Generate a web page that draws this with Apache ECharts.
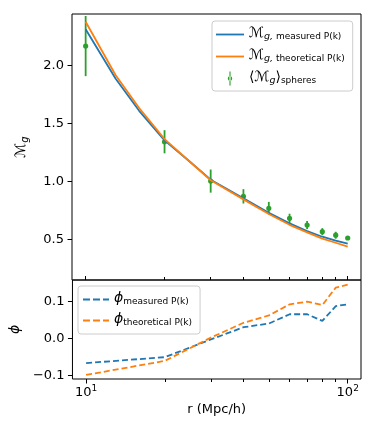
<!DOCTYPE html>
<html>
<head>
<meta charset="utf-8">
<script src="https://cdn.jsdelivr.net/npm/echarts@6/dist/echarts.min.js"></script>
<style>
  html, body { margin: 0; padding: 0; background: #fff; }
  #chart { width: 375px; height: 432px; }
</style>
</head>
<body>
<div id="chart"></div>
<script>
// model curves, top panel
const rLine = [10, 13, 16, 20, 25, 30, 40, 50, 60, 70, 80, 90, 100];
const mMeasured = [2.315, 1.89, 1.61, 1.355, 1.17, 1.015, 0.855, 0.728, 0.637, 0.571, 0.522, 0.488, 0.462];
const mTheory = [2.38, 1.92, 1.635, 1.365, 1.17, 1.01, 0.845, 0.718, 0.625, 0.56, 0.505, 0.47, 0.436];

// sphere averages with error bars
const rSpheres = [10, 20, 30, 40, 50, 60, 70, 80, 90, 100];
const mSpheres = [2.17, 1.343, 1.003, 0.871, 0.768, 0.681, 0.623, 0.566, 0.535, 0.511];
const errSpheres = [0.26, 0.1, 0.1, 0.062, 0.055, 0.04, 0.035, 0.03, 0.03, 0.01];

// bottom panel
const phiMeasured = [-0.067, -0.051, -0.003, 0.030, 0.040, 0.065, 0.065, 0.047, 0.087, 0.092];
const phiTheory = [-0.099, -0.061, 0.002, 0.042, 0.062, 0.092, 0.099, 0.090, 0.137, 0.145];

const topTicks = [0.5, 1.0, 1.5, 2.0];
const bottomTicks = [-0.1, 0.0, 0.1];
const xMajor = [10, 100];
const xMinor = [20, 30, 40, 50, 60, 70, 80, 90];
const R_MIN = 8.87, R_MAX = 112.4;

const FONT = "DejaVu Sans";
const BLUE = "#1f77b4", ORANGE = "#ff7f0e", GREEN = "#2ca02c";

const SOLID_ICON = "path://M0,0h28v1.8h-28z";
const DASH_ICON = "path://M0,0h7v1.8h-7z M10,0h7v1.8h-7z M20,0h6v1.8h-6z";
const ERR_ICON = "path://M4.2,0h1.6v20h-1.6z M1.8,10a3.2,3.2 0 1,0 6.4,0a3.2,3.2 0 1,0 -6.4,0z";

const zip = (a, b) => a.map((v, i) => [v, b[i]]);

// data axes (log), ticks hidden
function dataAxis(grid) {
  return {
    type: "log",
    gridIndex: grid,
    position: "bottom",
    min: R_MIN,
    max: R_MAX,
    axisLine: { show: false },
    axisTick: { show: false },
    splitLine: { show: false },
    axisLabel: { show: false },
  };
}

// tick axes, linear in log10(r) so major/minor ticks line up with the log scale
function tickAxis(grid, values, tickOpts, extra) {
  return Object.assign({
    type: "value",
    gridIndex: grid,
    position: "bottom",
    min: Math.log10(R_MIN),
    max: Math.log10(R_MAX),
    axisLine: { show: false },
    splitLine: { show: false },
    axisTick: Object.assign({ show: true, customValues: values.map(Math.log10), lineStyle: { color: "#000", width: 1 } }, tickOpts),
    axisLabel: { show: false },
  }, extra || {});
}

const legendRich = {
  m: { fontSize: 14, color: "#000", fontFamily: FONT, lineHeight: 14, padding: [0, 0, 3, 0] },
  gi: { fontSize: 9.5, color: "#000", fontFamily: FONT, fontStyle: "italic", lineHeight: 10, verticalAlign: "bottom" },
  sub: { fontSize: 9, color: "#000", fontFamily: FONT, lineHeight: 10, verticalAlign: "bottom" },
};

let myChart = echarts.init(document.getElementById("chart"), null, { renderer: "canvas" });

myChart.setOption({
  animation: false,
  textStyle: { fontFamily: FONT },
  grid: [
    { left: 72, top: 14, width: 289, height: 266, show: true, borderColor: "#000", borderWidth: 1 },
    { left: 72, top: 280, width: 289, height: 99, show: true, borderColor: "#000", borderWidth: 1 },
  ],
  legend: [
    {
      orient: "vertical",
      left: 212,
      top: 21,
      padding: [5, 8, 4, 4],
      itemWidth: 28,
      itemHeight: 14,
      itemGap: 5,
      backgroundColor: "rgba(255,255,255,0.8)",
      borderColor: "#cccccc",
      borderWidth: 1,
      borderRadius: 3,
      data: [
        { name: "measured", icon: SOLID_ICON },
        { name: "theoretical", icon: SOLID_ICON },
        { name: "spheres", icon: ERR_ICON },
      ],
      formatter: function (name) {
        if (name === "spheres") return "{m|\u27E8\u2133}{gi|g}{m|\u27E9}{sub|spheres}";
        return "{m|\u2133}{gi|g,}{sub| " + name + " P(k)}";
      },
      textStyle: { rich: legendRich },
    },
    {
      orient: "vertical",
      left: 78,
      top: 286,
      padding: [5, 8, 5, 5],
      itemWidth: 26,
      itemHeight: 14,
      itemGap: 4,
      backgroundColor: "rgba(255,255,255,0.8)",
      borderColor: "#cccccc",
      borderWidth: 1,
      borderRadius: 3,
      data: [
        { name: "phi measured", icon: DASH_ICON },
        { name: "phi theoretical", icon: DASH_ICON },
      ],
      formatter: function (name) {
        return "{m|\u03D5}{sub|" + name.replace("phi ", "") + " P(k)}";
      },
      textStyle: {
        rich: {
          m: { fontSize: 14, color: "#000", fontFamily: FONT, fontStyle: "italic", lineHeight: 14, padding: [0, 0, 3, 0] },
          sub: { fontSize: 9, color: "#000", fontFamily: FONT, lineHeight: 10, verticalAlign: "bottom" },
        },
      },
    },
  ],
  xAxis: [
    dataAxis(0),
    dataAxis(1),
    tickAxis(0, xMajor, { inside: true, length: 4 }),
    tickAxis(0, xMinor, { inside: true, length: 3 }),
    tickAxis(1, xMinor, { length: 3 }),
    tickAxis(1, xMajor, { length: 4.5 }, {
      axisLabel: {
        show: true,
        customValues: xMajor.map(Math.log10),
        margin: 5,
        formatter: function (v) {
          return "{b|10}{s|" + Math.round(v) + "}";
        },
        rich: {
          b: { fontSize: 13, color: "#000", fontFamily: FONT, lineHeight: 13, padding: [4, 0, 0, 0] },
          s: { fontSize: 9, color: "#000", fontFamily: FONT, lineHeight: 9, verticalAlign: "top" },
        },
      },
      name: "r (Mpc/h)",
      nameLocation: "middle",
      nameGap: 24,
      nameTextStyle: { fontSize: 13, color: "#000", fontFamily: FONT },
    }),
  ],
  yAxis: [
    {
      type: "value",
      gridIndex: 0,
      min: 0.148,
      max: 2.447,
      axisLine: { show: false },
      splitLine: { show: false },
      axisTick: { show: true, length: 4.5, customValues: topTicks, lineStyle: { color: "#000" } },
      axisLabel: {
        customValues: topTicks,
        margin: 8,
        fontSize: 13,
        color: "#000",
        formatter: (v) => v.toFixed(1),
      },
      name: "{m|\u2133}{g|g}",
      nameLocation: "middle",
      nameRotate: 90,
      nameGap: 36,
      nameTextStyle: {
        rich: {
          m: { fontSize: 14, color: "#000", fontFamily: FONT, lineHeight: 14, padding: [0, 0, 4, 0] },
          g: { fontSize: 10, color: "#000", fontFamily: FONT, fontStyle: "italic", lineHeight: 10, verticalAlign: "bottom" },
        },
      },
    },
    {
      type: "value",
      gridIndex: 1,
      min: -0.110,
      max: 0.1576,
      axisLine: { show: false },
      splitLine: { show: false },
      axisTick: { show: true, length: 4.5, customValues: bottomTicks, lineStyle: { color: "#000" } },
      axisLabel: {
        customValues: bottomTicks,
        margin: 8,
        fontSize: 13,
        color: "#000",
        formatter: (v) => (v < 0 ? "\u2212" + Math.abs(v).toFixed(1) : v.toFixed(1)),
      },
      name: "\u03D5",
      nameLocation: "middle",
      nameRotate: 90,
      nameGap: 46,
      nameTextStyle: { fontSize: 14, color: "#000", fontFamily: FONT, fontStyle: "italic" },
    },
  ],
  series: [
    {
      name: "measured",
      type: "line",
      xAxisIndex: 0,
      yAxisIndex: 0,
      data: zip(rLine, mMeasured),
      symbol: "none",
      lineStyle: { color: BLUE, width: 1.8 },
      itemStyle: { color: BLUE },
    },
    {
      name: "theoretical",
      type: "line",
      xAxisIndex: 0,
      yAxisIndex: 0,
      data: zip(rLine, mTheory),
      symbol: "none",
      lineStyle: { color: ORANGE, width: 1.8 },
      itemStyle: { color: ORANGE },
    },
    {
      name: "spheres",
      type: "custom",
      xAxisIndex: 0,
      yAxisIndex: 0,
      clip: true,
      itemStyle: { color: GREEN },
      data: rSpheres.map((r, i) => [r, mSpheres[i], errSpheres[i]]),
      encode: { x: 0, y: 1 },
      renderItem: function (params, api) {
        const x = api.value(0), y = api.value(1), e = api.value(2);
        const p = api.coord([x, y]);
        const hi = api.coord([x, y + e]);
        const lo = api.coord([x, y - e]);
        return {
          type: "group",
          children: [
            { type: "line", shape: { x1: p[0], y1: hi[1], x2: p[0], y2: lo[1] }, style: { stroke: GREEN, lineWidth: 1.8 } },
            { type: "circle", shape: { cx: p[0], cy: p[1], r: 2.6 }, style: { fill: GREEN } },
          ],
        };
      },
    },
    {
      name: "phi measured",
      type: "line",
      xAxisIndex: 1,
      yAxisIndex: 1,
      data: zip(rSpheres, phiMeasured),
      symbol: "none",
      lineStyle: { color: BLUE, width: 1.8, type: [6, 3] },
      itemStyle: { color: BLUE },
    },
    {
      name: "phi theoretical",
      type: "line",
      xAxisIndex: 1,
      yAxisIndex: 1,
      data: zip(rSpheres, phiTheory),
      symbol: "none",
      lineStyle: { color: ORANGE, width: 1.8, type: [6, 3] },
      itemStyle: { color: ORANGE },
    },
  ],
});
</script>
</body>
</html>
